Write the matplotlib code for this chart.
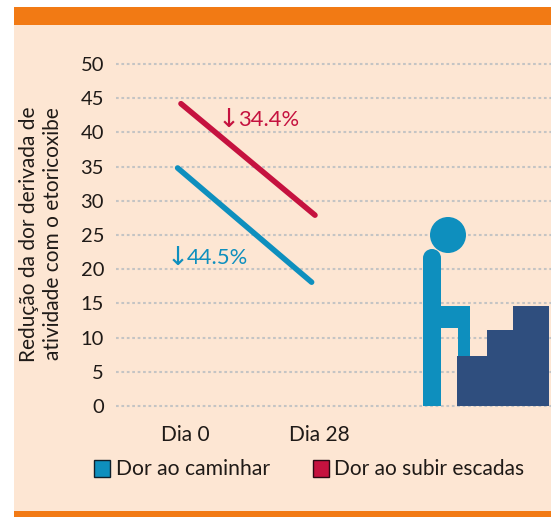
import matplotlib
matplotlib.use("Agg")
import matplotlib.pyplot as plt
from matplotlib.patches import Rectangle, Circle, Polygon
from matplotlib.transforms import Affine2D

W, H = 551, 517
plt.rcParams['font.family'] = ['Lato', 'DejaVu Sans']

categories = ["Dia 0", "Dia 28"]
walking = [34.8, 18.1]
stairs = [44.2, 27.9]
y_ticks = [0, 5, 10, 15, 20, 25, 30, 35, 40, 45, 50]
arrow = "↓"
walk_label = "44.5%"
stair_label = "34.4%"
series_names = ["Dor ao caminhar", "Dor ao subir escadas"]
y_title = "Redução da dor derivada de\natividade com o etoricoxibe"

BLUE = "#0E8FBE"
RED = "#C5123F"
NAVY = "#2F4E7E"
ORANGE = "#F27A14"
BG = "#FDE6D3"
TXT = "#1f1a17"
GRID = "#C4C4C4"

fig = plt.figure(figsize=(W / 100, H / 100), dpi=100, facecolor="white")
px = Affine2D().scale(1, -1).translate(0, H)  # figure pixels, top-left origin

def add(p, z=5):
    p.set_transform(px)
    p.set_clip_on(False)
    p.set_zorder(z)
    fig.add_artist(p)

add(Rectangle((14, 7), W - 14, H - 7, fc=BG, ec="none"), -3)
add(Rectangle((14, 7), W - 14, 18, fc=ORANGE, ec="none"), -2)
add(Rectangle((14, 511), W - 14, 6, fc=ORANGE, ec="none"), -2)

ax = fig.add_axes([116 / W, (H - 406) / H, (W - 116) / W, (406 - 64) / H])
ax.patch.set_alpha(0)
ax.set_xlim(-69 / 134, (W - 185) / 134)
ax.set_ylim(0, 50)
for s in ax.spines.values():
    s.set_visible(False)
ax.set_yticks(y_ticks)
ax.set_yticklabels([str(v) for v in y_ticks], fontsize=14.5, color=TXT)
ax.set_xticks(range(len(categories)))
ax.set_xticklabels(categories, fontsize=15, color=TXT)
ax.tick_params(axis="both", length=0)
ax.tick_params(axis="y", pad=8.6)
ax.tick_params(axis="x", pad=14)
for v in y_ticks:
    ax.axhline(v, color=GRID, lw=1.5, dashes=(1.3, 1.3), clip_on=False, zorder=1)

xs = range(len(categories))
ax.plot([x - 0.055 for x in xs], walking, color=BLUE, lw=4, solid_capstyle="round", zorder=3)
ax.plot([x - 0.03 for x in xs], stairs, color=RED, lw=4, solid_capstyle="round", zorder=3)
ax.text(-0.052, 21.6, arrow, color=BLUE, fontsize=19, va="center", ha="center", family="DejaVu Sans")
ax.text(0.015, 21.6, walk_label, color=BLUE, fontsize=15.8, va="center", ha="left")
ax.text(0.325, 41.8, arrow, color=RED, fontsize=19, va="center", ha="center", family="DejaVu Sans")
ax.text(0.395, 41.8, stair_label, color=RED, fontsize=15.8, va="center", ha="left")

fig.text(41 / W, (H - 234) / H, y_title, rotation=90, ha="center", va="center",
         fontsize=15, color=TXT, linespacing=1.25, multialignment="center")

# Legend
add(Rectangle((94, 460), 16, 17, fc=BLUE, ec="#10202c", lw=1))
fig.text(116 / W, (H - 469) / H, series_names[0], fontsize=15.2, color=TXT, va="center")
add(Rectangle((313, 460), 16, 17, fc=RED, ec="#2a0a14", lw=1))
fig.text(334 / W, (H - 469) / H, series_names[1], fontsize=15, color=TXT, va="center")

# Pictogram: person climbing stairs
add(Rectangle((458, 306), 12, 54, fc=BLUE, ec="none"))
add(Rectangle((441, 306), 29, 22, fc=BLUE, ec="none"))
add(Rectangle((423, 258), 18, 148, fc=BLUE, ec="none"))
add(Circle((432, 258), 9, fc=BLUE, ec="none"))
add(Circle((448, 235), 18, fc=BLUE, ec="none"))
add(Polygon([(457, 356), (487, 356), (487, 330), (513, 330), (513, 306), (549, 306),
             (549, 406), (457, 406)], fc=NAVY, ec="none"), 6)

fig.savefig("out.png", dpi=100, facecolor="white")
